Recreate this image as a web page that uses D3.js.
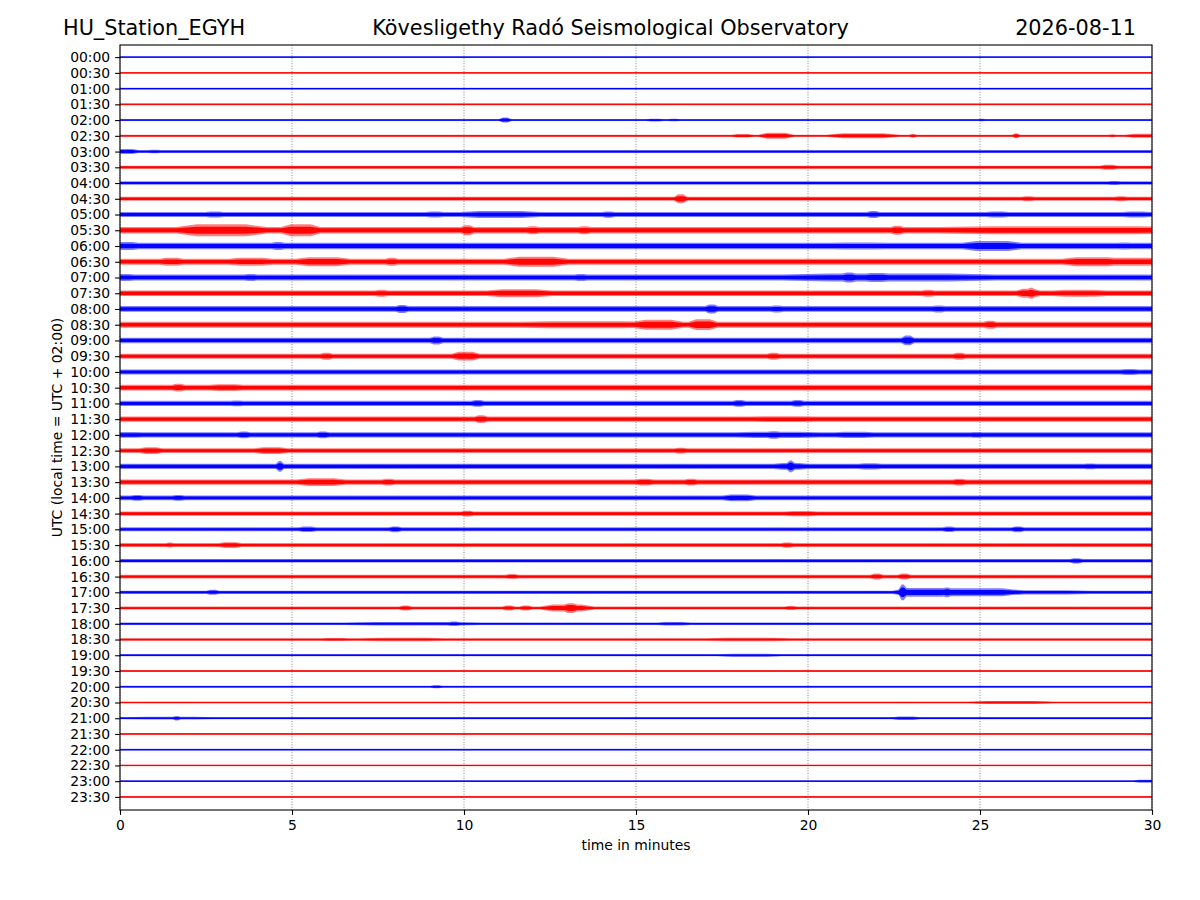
<!DOCTYPE html>
<html>
<head>
<meta charset="utf-8">
<script src="https://cdn.jsdelivr.net/npm/d3@7"></script>
<style>
    body { margin: 0; background: white; }
    svg text { font-family: "DejaVu Sans", sans-serif; fill: black; }
</style>
</head>
<body>
<div id="plot"></div>
<script>
// Row labels (start of each 30 minute line, UTC)
const rowLabels = ["00:00", "00:30", "01:00", "01:30", "02:00", "02:30", "03:00", "03:30",
    "04:00", "04:30", "05:00", "05:30", "06:00", "06:30", "07:00", "07:30",
    "08:00", "08:30", "09:00", "09:30", "10:00", "10:30", "11:00", "11:30",
    "12:00", "12:30", "13:00", "13:30", "14:00", "14:30", "15:00", "15:30",
    "16:00", "16:30", "17:00", "17:30", "18:00", "18:30", "19:00", "19:30",
    "20:00", "20:30", "21:00", "21:30", "22:00", "22:30", "23:00", "23:30"];

// Minute ticks on the x axis
const minuteTicks = [0, 5, 10, 15, 20, 25, 30];

// Line colours, alternating per row
const rowColors = ["#0000ff", "#ff0000"];

// Background noise level of each row (half amplitude, 16 units = one row)
const noiseLevel = [0.8, 0.8, 0.9, 0.8, 0.9, 1.0, 1.5, 1.6,
    1.7, 2.0, 2.5, 3.3, 3.3, 3.1, 3.1, 2.9,
    2.9, 3.0, 2.8, 2.6, 2.5, 2.9, 2.6, 2.7,
    2.6, 2.5, 2.6, 2.7, 2.5, 2.2, 2.0, 2.0,
    1.8, 1.9, 1.6, 1.5, 1.3, 1.4, 1.1, 1.0,
    1.0, 1.0, 1.1, 0.9, 0.9, 0.9, 0.9, 0.9];

// Bursts: [row, from minute, to minute, half amplitude]
const bursts = [
    [4, 11.1, 11.3, 2.5], [4, 15.4, 15.7, 1.4], [4, 16.0, 16.2, 1.3], [4, 25.0, 25.1, 1.3],
    [5, 17.9, 18.3, 1.8], [5, 18.75, 19.4, 3.0], [5, 20.9, 22.3, 2.5], [5, 23.0, 23.1, 2.0],
    [5, 26.0, 26.1, 2.5], [5, 28.8, 28.9, 1.5], [5, 29.4, 30, 2.0],
    [6, 0, 0.4, 2.5], [6, 0.9, 1.1, 1.8],
    [7, 28.6, 28.9, 2.5],
    [8, 28.8, 29.0, 2.0],
    [9, 16.2, 16.4, 4.5], [9, 26.3, 26.5, 2.5], [9, 29.0, 29.2, 2.5],
    [10, 2.6, 2.9, 3.0], [10, 9.0, 9.3, 3.0], [10, 10.3, 11.8, 3.5], [10, 14.1, 14.3, 3.2],
    [10, 21.8, 22.0, 3.5], [10, 25.3, 25.7, 3.0], [10, 29.3, 29.8, 3.0],
    [11, 2.1, 3.8, 6.0], [11, 4.9, 5.6, 6.0], [11, 10.0, 10.2, 5.0], [11, 11.9, 12.1, 4.0],
    [11, 13.4, 13.6, 4.0], [11, 22.5, 22.7, 4.5], [11, 25.0, 29.9, 4.0],
    [12, 0, 0.4, 4.0], [12, 4.5, 4.7, 4.0], [12, 21.0, 22.0, 3.5], [12, 24.8, 25.9, 5.0], [12, 29.1, 29.3, 3.5],
    [13, 1.3, 1.7, 4.0], [13, 3.4, 4.2, 4.0], [13, 5.4, 6.4, 4.5], [13, 7.8, 8.0, 4.0],
    [13, 11.5, 12.7, 5.0], [13, 27.7, 28.8, 4.5], [13, 28.8, 30, 4.0],
    [14, 0, 0.3, 3.5], [14, 3.7, 3.9, 3.5], [14, 13.3, 13.5, 3.5], [14, 20.3, 24.4, 4.0],
    [14, 21.1, 21.3, 5.0], [14, 21.8, 22.2, 4.5],
    [15, 7.5, 7.7, 3.5], [15, 11.0, 12.2, 4.0], [15, 23.4, 23.6, 3.5], [15, 26.2, 26.6, 4.5],
    [15, 26.45, 26.55, 5.5], [15, 27.4, 28.4, 3.5],
    [16, 8.1, 8.3, 4.0], [16, 17.1, 17.3, 4.5], [16, 19.0, 19.2, 3.5], [16, 23.7, 23.9, 3.5],
    [17, 12.3, 14.8, 3.5], [17, 15.2, 16.1, 5.0], [17, 16.7, 17.2, 5.5], [17, 25.2, 25.4, 4.0],
    [18, 9.1, 9.3, 4.0], [18, 22.8, 23.0, 5.0],
    [19, 5.9, 6.1, 3.5], [19, 9.8, 10.3, 4.5], [19, 18.9, 19.1, 3.5], [19, 24.3, 24.5, 3.5],
    [20, 29.2, 29.5, 3.0],
    [21, 1.6, 1.8, 4.0], [21, 2.8, 3.4, 3.5],
    [22, 3.3, 3.5, 3.0], [22, 10.3, 10.5, 3.5], [22, 17.9, 18.1, 3.5], [22, 19.6, 19.8, 3.5],
    [23, 10.4, 10.6, 4.0], [23, 18.7, 19.9, 3.0],
    [24, 0, 0.5, 3.0], [24, 3.5, 3.7, 3.5], [24, 5.8, 6.0, 3.5], [24, 18.3, 19.9, 3.2],
    [24, 18.9, 19.1, 3.8], [24, 21.0, 21.7, 3.2], [24, 24.8, 25.0, 3.0],
    [25, 0.7, 1.1, 3.5], [25, 4.1, 4.7, 3.5], [25, 16.2, 16.4, 3.0],
    [26, 4.6, 4.7, 5.5], [26, 19.2, 19.8, 3.5], [26, 19.45, 19.55, 6.0], [26, 21.6, 22.0, 3.2], [26, 28.1, 28.3, 3.0],
    [27, 5.4, 6.3, 4.0], [27, 7.7, 7.9, 3.5], [27, 15.1, 15.4, 3.5], [27, 16.5, 16.7, 3.5], [27, 24.3, 24.5, 3.5],
    [28, 0.4, 0.6, 3.0], [28, 1.6, 1.8, 3.0], [28, 17.7, 18.3, 3.5],
    [29, 10.0, 10.2, 3.0], [29, 19.5, 20.1, 2.6],
    [30, 5.3, 5.6, 2.8], [30, 7.9, 8.1, 3.0], [30, 24.0, 24.2, 2.8], [30, 26.0, 26.2, 3.0],
    [31, 1.4, 1.5, 2.5], [31, 3.0, 3.4, 3.0], [31, 19.3, 19.5, 2.7],
    [32, 27.7, 27.9, 2.7],
    [33, 11.3, 11.5, 2.5], [33, 21.9, 22.1, 3.0], [33, 22.7, 22.9, 3.0],
    [34, 2.6, 2.8, 2.5], [34, 22.7, 22.8, 8.0], [34, 22.8, 24.0, 4.5], [34, 24.0, 24.1, 5.0],
    [34, 24.0, 25.8, 4.0], [34, 25.8, 27.7, 2.2],
    [35, 8.2, 8.4, 2.5], [35, 11.2, 11.4, 2.5], [35, 11.7, 11.9, 2.5], [35, 12.5, 13.5, 3.5],
    [35, 13.0, 13.2, 5.0], [35, 19.4, 19.6, 2.0],
    [36, 7.2, 9.8, 1.8], [36, 9.6, 9.8, 2.2], [36, 15.8, 16.4, 1.7],
    [37, 6.0, 6.5, 1.6], [37, 7.4, 9.0, 1.8], [37, 17.5, 19.1, 1.8],
    [38, 17.7, 18.9, 1.5],
    [40, 9.1, 9.3, 1.5],
    [41, 25.1, 26.7, 1.5],
    [42, 0.6, 2.3, 1.4], [42, 1.6, 1.7, 2.2], [42, 22.6, 23.1, 1.8],
    [46, 29.6, 30, 1.5]
];

// Layout (matches the 1200x900 figure)
const width = 1200,
    height = 900,
    margin = {top: 45, right: 48, bottom: 90, left: 120},
    plotW = width - margin.left - margin.right,
    plotH = height - margin.top - margin.bottom;

let svg = d3.select("#plot").append("svg")
    .attr("width", width)
    .attr("height", height);

let x = d3.scaleLinear().domain([0, 30]).range([0, plotW]),
    y = d3.scaleLinear().domain([-0.77, 47.83]).range([0, plotH]),
    // amplitude: 16 units is one row spacing
    amp = d3.scaleLinear().domain([0, 16]).range([0, y(1) - y(0)]);

let g = svg.append("g")
    .attr("transform", `translate(${margin.left},${margin.top})`);

g.append("clipPath")
    .attr("id", "clip")
    .append("rect")
        .attr("width", plotW)
        .attr("height", plotH);

// Dotted vertical grid
g.append("g")
    .selectAll("line")
    .data(minuteTicks)
    .join("line")
        .attr("x1", d => x(d))
        .attr("x2", d => x(d))
        .attr("y1", 0)
        .attr("y2", plotH)
        .attr("stroke", "#666")
        .attr("stroke-width", 0.8)
        .attr("stroke-dasharray", "1,1.6");

// Envelope of one row: noise level, raised by the bursts of that row.
// Each burst rises and falls over part of its length so it reads as a spindle.
function envelope(row) {
    let base = noiseLevel[row],
        own = bursts.filter(b => b[0] === row).map(b => {
            let r = 0.04 + 0.25 * (b[2] - b[1]);
            return {from: b[1] - r, top0: b[1] + r * 0.3, top1: b[2] - r * 0.3, to: b[2] + r, a: b[3]};
        }),
        knots = [0, 30];
    own.forEach(b => knots.push(b.from, b.top0, b.top1, b.to));
    knots = Array.from(new Set(knots.filter(t => t >= 0 && t <= 30))).sort((a, b) => a - b);
    return knots.map(t => {
        let a = base;
        own.forEach(b => {
            let v = base;
            if (t >= b.top0 && t <= b.top1) v = b.a;
            else if (t > b.from && t < b.top0) v = base + (b.a - base) * (t - b.from) / (b.top0 - b.from);
            else if (t > b.top1 && t < b.to) v = base + (b.a - base) * (b.to - t) / (b.to - b.top1);
            a = Math.max(a, v);
        });
        return {t: t, a: a};
    });
}

let traces = g.append("g")
    .attr("clip-path", "url(#clip)")
    .selectAll("g")
    .data(rowLabels)
    .join("g")
        .attr("transform", (d, i) => `translate(0,${y(i)})`);

traces.each(function(d, i) {
    let env = envelope(i),
        color = rowColors[i % 2],
        sel = d3.select(this);

    // outer fuzz
    sel.append("path")
        .attr("d", d3.area().x(p => x(p.t)).y0(p => -amp(p.a)).y1(p => amp(p.a))(env))
        .attr("fill", color)
        .attr("fill-opacity", 0.5);

    // dense core
    sel.append("path")
        .attr("d", d3.area().x(p => x(p.t)).y0(p => -amp(p.a) * 0.6).y1(p => amp(p.a) * 0.6)(env))
        .attr("fill", color)
        .attr("fill-opacity", 0.95);

    // centre line
    sel.append("line")
        .attr("x1", x(0))
        .attr("x2", x(30))
        .attr("stroke", color)
        .attr("stroke-width", 1);
});

// Axes
let xAxis = g.append("g")
    .attr("transform", `translate(0,${plotH})`)
    .call(d3.axisBottom(x).tickValues(minuteTicks).tickFormat(d3.format("d")).tickSize(4.9).tickPadding(4.9));

let yAxis = g.append("g")
    .call(d3.axisLeft(y).tickValues(d3.range(rowLabels.length)).tickFormat(i => rowLabels[i]).tickSize(4.9).tickPadding(4.9));

[xAxis, yAxis].forEach(a => {
    a.select(".domain").remove();
    a.selectAll("text")
        .style("font-family", "'DejaVu Sans', sans-serif")
        .style("font-size", "13.9px");
    a.selectAll("line")
        .attr("stroke", "black")
        .attr("stroke-width", 1.1);
});

// Frame
g.append("rect")
    .attr("width", plotW)
    .attr("height", plotH)
    .attr("fill", "none")
    .attr("stroke", "black")
    .attr("stroke-width", 1.1);

// Titles
svg.append("text")
    .attr("x", 63)
    .attr("y", 35)
    .style("font-size", "20.8px")
    .text("HU_Station_EGYH");

svg.append("text")
    .attr("x", 610.5)
    .attr("y", 35)
    .attr("text-anchor", "middle")
    .style("font-size", "20.8px")
    .text("Kövesligethy Radó Seismological Observatory");

svg.append("text")
    .attr("x", 1136)
    .attr("y", 35)
    .attr("text-anchor", "end")
    .style("font-size", "20.8px")
    .text("2026-08-11");

// Axis labels
svg.append("text")
    .attr("x", margin.left + plotW / 2)
    .attr("y", 850)
    .attr("text-anchor", "middle")
    .style("font-size", "13.9px")
    .text("time in minutes");

svg.append("text")
    .attr("transform", `translate(62,${margin.top + plotH / 2}) rotate(-90)`)
    .attr("text-anchor", "middle")
    .style("font-size", "13.9px")
    .text("UTC (local time = UTC + 02:00)");
</script>
</body>
</html>
